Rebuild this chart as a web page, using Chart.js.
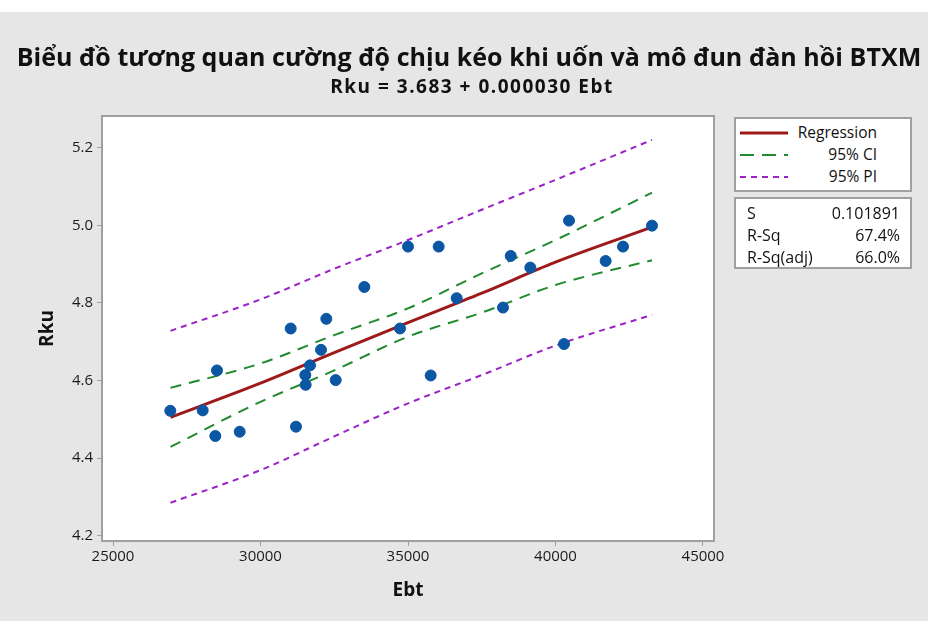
<!DOCTYPE html>
<html>
<head>
<meta charset="utf-8">
<script src="https://cdn.jsdelivr.net/npm/chart.js@4.4.1/dist/chart.umd.min.js"></script>
<style>
    body { margin: 0; background: #ffffff; font-family: "Open Sans", "Noto Sans", sans-serif; }
    #panel { position: absolute; left: 0; top: 12px; width: 928px; height: 609px; background: #e6e6e6; }
    #chart { position: absolute; left: 0; top: 0; }
    .title { position: absolute; left: 0; width: 928px; text-align: center; font-weight: bold; color: #111; white-space: nowrap; }
    #main-title { top: 39px; font-size: 25px; letter-spacing: 0.05px; padding-left: 5px; }
    #sub-title { top: 73px; font-size: 19px; letter-spacing: 1.5px; padding-left: 8px; }
    .box { position: absolute; background: #fff; border: 2px solid #a0a0a0; box-sizing: border-box; color: #111; }
    #legend-box { font-size: 15.5px; }
    #stats-box { font-size: 16px; }
    .row { position: absolute; white-space: nowrap; line-height: 18px; }
    .row svg { position: absolute; left: 0; top: 8px; }
</style>
</head>
<body>
<div id="panel"></div>
<canvas id="chart" width="928" height="621"></canvas>
<div class="title" id="main-title">Biểu đồ tương quan cường độ chịu kéo khi uốn và mô đun đàn hồi BTXM</div>
<div class="title" id="sub-title">Rku = 3.683 + 0.000030 Ebt</div>

<div class="box" id="legend-box" style="left:734px; top:117px; width:178px; height:75px;"></div>
<div class="box" id="stats-box" style="left:734px; top:197px; width:178px; height:72px;"></div>

<script>
// observed points
const ebt = [26942, 28040, 28468, 28525, 29294, 31023, 31203, 31519, 31531, 31678, 32051, 32231, 32549, 33519,
    34729, 35000, 35768, 36040, 36650, 38220, 38483, 39147, 40288, 40458, 41700, 42288, 43271];
const rku = [4.522, 4.523, 4.457, 4.626, 4.468, 4.734, 4.481, 4.614, 4.589, 4.639, 4.679, 4.759, 4.601, 4.841,
    4.734, 4.945, 4.613, 4.945, 4.812, 4.788, 4.921, 4.891, 4.694, 5.012, 4.908, 4.945, 4.999];

// fitted line and bands
const fitX = [26950, 30000, 32500, 35000, 37500, 40000, 43271];
const regression = [4.505, 4.593, 4.672, 4.749, 4.825, 4.905, 4.995];
const ciUpper = [4.581, 4.644, 4.717, 4.786, 4.876, 4.962, 5.084];
const ciLower = [4.429, 4.545, 4.626, 4.713, 4.775, 4.846, 4.910];
const piUpper = [4.728, 4.809, 4.888, 4.962, 5.040, 5.117, 5.220];
const piLower = [4.285, 4.369, 4.456, 4.541, 4.614, 4.690, 4.769];

const xTicks = [25000, 30000, 35000, 40000, 45000];
const yTicks = [4.2, 4.4, 4.6, 4.8, 5.0, 5.2];

const legendItems = [
    { label: 'Regression', color: '#9e1a1a', dash: '', width: 3 },
    { label: '95% CI', color: '#1f8a2e', dash: '14 8', width: 2 },
    { label: '95% PI', color: '#9a22c8', dash: '6 5', width: 2 }
];
const stats = [['S', '0.101891'], ['R-Sq', '67.4%'], ['R-Sq(adj)', '66.0%']];

const FONT = '"Open Sans", "Noto Sans", sans-serif';

function pairs(xs, ys) {
    return xs.map((x, i) => ({ x: x, y: ys[i] }));
}

function lineSet(label, ys, color, dash, width) {
    return {
        label: label,
        data: pairs(fitX, ys),
        showLine: true,
        borderColor: color,
        borderWidth: width,
        borderDash: dash,
        pointRadius: 0,
        cubicInterpolationMode: 'monotone',
        fill: false,
        order: 1
    };
}

const frame = {
    id: 'frame',
    beforeDraw(chart) {
        const { ctx, chartArea: a } = chart;
        ctx.save();
        ctx.fillStyle = '#ffffff';
        ctx.fillRect(a.left, a.top, a.right - a.left, a.bottom - a.top);
        ctx.restore();
    },
    afterDraw(chart) {
        const { ctx, chartArea: a } = chart;
        ctx.save();
        ctx.strokeStyle = '#a0a0a0';
        ctx.lineWidth = 2;
        ctx.strokeRect(a.left - 1, a.top - 1, a.right - a.left + 2, a.bottom - a.top + 2);
        ctx.restore();
    }
};

new Chart(document.getElementById('chart'), {
    type: 'scatter',
    data: {
        datasets: [
            {
                label: 'Data',
                data: pairs(ebt, rku),
                backgroundColor: '#0b57a4',
                borderColor: '#0b57a4',
                pointRadius: 5.5,
                pointHoverRadius: 5.5,
                order: 0
            },
            lineSet('Regression', regression, '#9e1a1a', [], 3),
            lineSet('95% CI upper', ciUpper, '#1f8a2e', [11, 8], 2),
            lineSet('95% CI lower', ciLower, '#1f8a2e', [11, 8], 2),
            lineSet('95% PI upper', piUpper, '#9a22c8', [6, 5], 2),
            lineSet('95% PI lower', piLower, '#9a22c8', [6, 5], 2)
        ]
    },
    options: {
        responsive: false,
        animation: false,
        devicePixelRatio: 1,
        layout: { padding: { left: 0, top: 117, right: 215, bottom: 0 } },
        plugins: { legend: { display: false }, tooltip: { enabled: false } },
        scales: {
            x: {
                type: 'linear',
                min: 24661,
                max: 45339,
                afterBuildTicks: s => { s.ticks = xTicks.map(v => ({ value: v })); },
                afterFit: s => { s.height = 81; },
                border: { display: false },
                grid: { drawOnChartArea: false, tickLength: 6, color: '#a0a0a0', lineWidth: 1 },
                ticks: {
                    color: '#1a1a1a', padding: 2, maxRotation: 0, autoSkip: false,
                    font: { family: FONT, size: 15 },
                    callback: v => String(v)
                },
                title: {
                    display: true, text: 'Ebt', color: '#111',
                    font: { family: FONT, size: 19, weight: 'bold' },
                    padding: { top: 0, bottom: 19 }
                }
            },
            y: {
                type: 'linear',
                min: 4.189,
                max: 5.279,
                afterBuildTicks: s => { s.ticks = yTicks.map(v => ({ value: v })); },
                afterFit: s => { s.width = 103; },
                border: { display: false },
                grid: { drawOnChartArea: false, tickLength: 6, color: '#a0a0a0', lineWidth: 1 },
                ticks: {
                    color: '#1a1a1a', padding: 4, autoSkip: false,
                    font: { family: FONT, size: 15 },
                    callback: v => v.toFixed(1)
                },
                title: {
                    display: true, text: 'Rku', color: '#111',
                    font: { family: FONT, size: 19, weight: 'bold' },
                    padding: { top: 36, bottom: 0 }
                }
            }
        }
    },
    plugins: [frame]
});

// legend box
const legendBox = document.getElementById('legend-box');
legendItems.forEach((item, i) => {
    const row = document.createElement('div');
    row.className = 'row';
    row.style.left = '4px';
    row.style.top = (4 + i * 22) + 'px';
    row.style.width = '137px';
    row.style.textAlign = 'right';
    row.innerHTML = `<svg width="50" height="4"><line x1="0" y1="2" x2="48" y2="2" stroke="${item.color}"
        stroke-width="${item.width}" stroke-dasharray="${item.dash}"/></svg>${item.label}`;
    legendBox.appendChild(row);
});

// stats box
const statsBox = document.getElementById('stats-box');
stats.forEach((s, i) => {
    const row = document.createElement('div');
    row.className = 'row';
    row.style.left = '11px';
    row.style.top = (5 + i * 22) + 'px';
    row.style.width = '153px';
    row.innerHTML = `<span>${s[0]}</span><span style="position:absolute; right:0;">${s[1]}</span>`;
    statsBox.appendChild(row);
});
</script>
</body>
</html>
